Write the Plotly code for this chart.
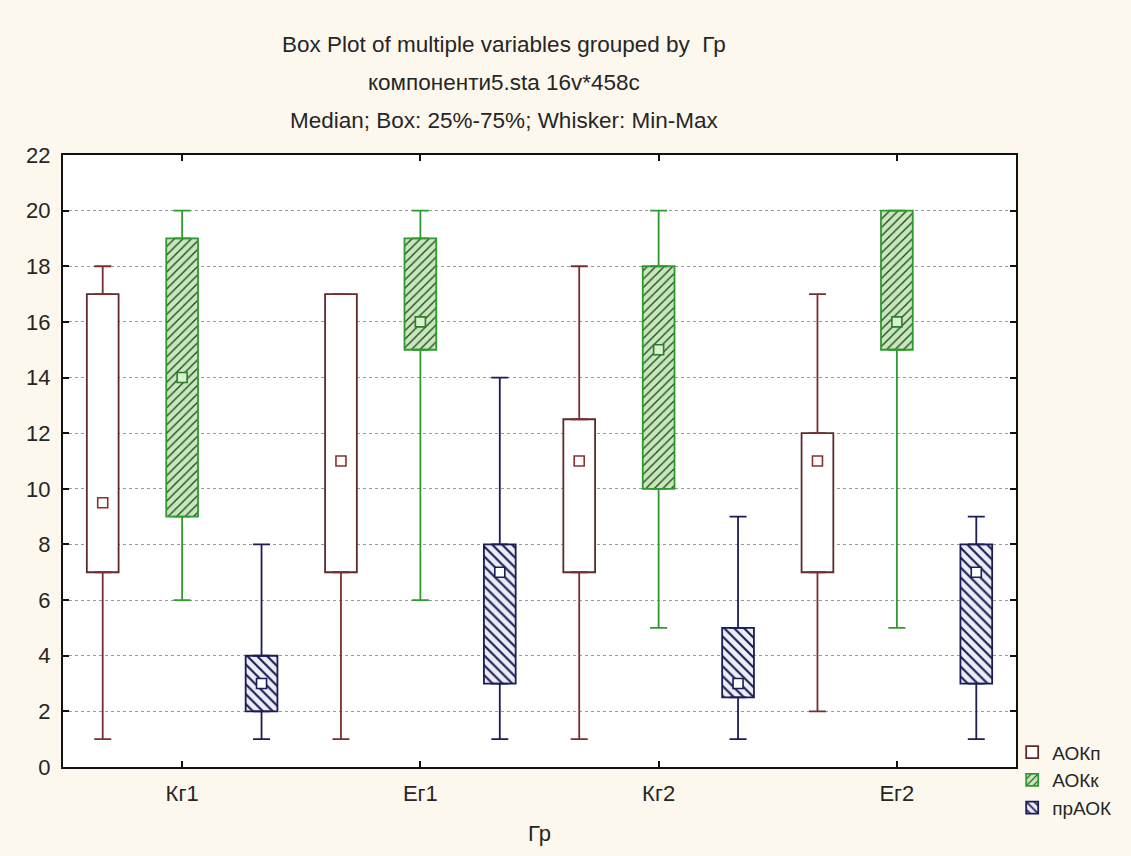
import plotly.graph_objects as go

groups = ["Кг1", "Ег1", "Кг2", "Ег2"]
series = ["АОКп", "АОКк", "прАОК"]

mins = {
    "АОКп": [1, 1, 1, 2],
    "АОКк": [6, 6, 5, 5],
    "прАОК": [1, 1, 1, 1],
}
q1s = {
    "АОКп": [7, 7, 7, 7],
    "АОКк": [9, 15, 10, 15],
    "прАОК": [2, 3, 2.5, 3],
}
medians = {
    "АОКп": [9.5, 11, 11, 11],
    "АОКк": [14, 16, 15, 16],
    "прАОК": [3, 7, 3, 7],
}
q3s = {
    "АОКп": [17, 17, 12.5, 12],
    "АОКк": [19, 19, 18, 20],
    "прАОК": [4, 8, 5, 8],
}
maxs = {
    "АОКп": [18, 17, 18, 17],
    "АОКк": [20, 20, 20, 20],
    "прАОК": [8, 14, 9, 9],
}

yticks = [0, 2, 4, 6, 8, 10, 12, 14, 16, 18, 20, 22]

styles = {
    "АОКп": dict(line="#5e2a2a", whisk="#7a2e2e", bg="#ffffff", fg="#ffffff", shape="", size=7, sol=0.3, med_fill="#ffffff", med_line="#8a3030"),
    "АОКк": dict(line="#2f9a2f", whisk="#2f9a2f", bg="#c4eab8", fg="#2a3a2a", shape="/", size=6, sol=0.22, med_fill="#d6f2cc", med_line="#2f7a2f"),
    "прАОК": dict(line="#1c1c58", whisk="#1c1c58", bg="#eceef6", fg="#1c1c58", shape="\\", size=7, sol=0.3, med_fill="#ffffff", med_line="#1c1c58"),
}

FONT = "Liberation Sans, Arial, sans-serif"
TXT = "#262626"
fig = go.Figure()

for k, s in enumerate(series):
    st = styles[s]
    heights = [b - a for a, b in zip(q1s[s], q3s[s])]
    marker = dict(color=st["bg"], line=dict(color=st["line"], width=1.8))
    if st["shape"]:
        marker["pattern"] = dict(shape=st["shape"], bgcolor=st["bg"], fgcolor=st["fg"],
                                 size=st["size"], solidity=st["sol"], fillmode="replace")
    fig.add_trace(go.Bar(
        x=groups, y=heights, base=q1s[s], name=s, offsetgroup=str(k),
        marker=marker, showlegend=True, hoverinfo="skip",
    ))

for k, s in enumerate(series):
    st = styles[s]
    up = [b - a for a, b in zip(q3s[s], maxs[s])]
    down = [a - b for a, b in zip(q1s[s], mins[s])]
    fig.add_trace(go.Scatter(
        x=groups, y=q3s[s], mode="markers", offsetgroup=str(k), showlegend=False,
        marker=dict(size=1, opacity=0),
        error_y=dict(type="data", symmetric=False, array=up, arrayminus=[0] * len(up),
                     color=st["whisk"], thickness=1.8, width=8.5),
        hoverinfo="skip",
    ))
    fig.add_trace(go.Scatter(
        x=groups, y=q1s[s], mode="markers", offsetgroup=str(k), showlegend=False,
        marker=dict(size=1, opacity=0),
        error_y=dict(type="data", symmetric=False, array=[0] * len(down), arrayminus=down,
                     color=st["whisk"], thickness=1.8, width=8.5),
        hoverinfo="skip",
    ))
    fig.add_trace(go.Scatter(
        x=groups, y=medians[s], mode="markers", offsetgroup=str(k), showlegend=False,
        marker=dict(symbol="square", size=10, color=st["med_fill"],
                    line=dict(color=st["med_line"], width=1.6)),
        hoverinfo="skip",
    ))

titles = [
    "Box Plot of multiple variables grouped by  Гр",
    "компоненти5.sta 16v*458c",
    "Median; Box: 25%-75%; Whisker: Min-Max",
]
title_y = [1.18, 1.118, 1.056]
for t, yy in zip(titles, title_y):
    fig.add_annotation(text=t, xref="paper", yref="paper", x=0.4627, y=yy,
                       xanchor="center", yanchor="middle", showarrow=False,
                       font=dict(family=FONT, size=22.5, color=TXT))

fig.update_layout(
    width=1131, height=856,
    margin=dict(l=63, r=115, t=155, b=89),
    paper_bgcolor="#fdf8ee",
    plot_bgcolor="#ffffff",
    barmode="group", bargap=0.0, bargroupgap=0.6,
    scattermode="group", scattergap=0.0,
    font=dict(family=FONT, size=22, color=TXT),
    legend=dict(x=0.996, y=0.055, xanchor="left", yanchor="top",
                bgcolor="rgba(0,0,0,0)", font=dict(family=FONT, size=19, color=TXT),
                itemwidth=30, tracegroupgap=0),
    showlegend=True,
)
fig.update_xaxes(
    type="category", range=[-0.5, 3.5],
    showline=True, linecolor="#111111", linewidth=2, mirror="ticks",
    ticks="inside", ticklen=6, tickcolor="#111111", tickwidth=2,
    showgrid=False, ticklabelstandoff=6,
    title=dict(text="Гр", standoff=20, font=dict(family=FONT, size=22, color=TXT)),
    tickfont=dict(family=FONT, size=22, color=TXT),
)
fig.update_yaxes(
    range=[0, 22], tickvals=yticks, ticktext=[str(v) for v in yticks],
    showline=True, linecolor="#111111", linewidth=2, mirror="ticks",
    ticks="inside", ticklen=6, tickcolor="#111111", tickwidth=2,
    showgrid=True, gridcolor="#9a9a9a", griddash="dot", gridwidth=1,
    zeroline=False, ticklabelstandoff=6,
    tickfont=dict(family=FONT, size=22, color=TXT),
)

fig.write_html("out.html")
